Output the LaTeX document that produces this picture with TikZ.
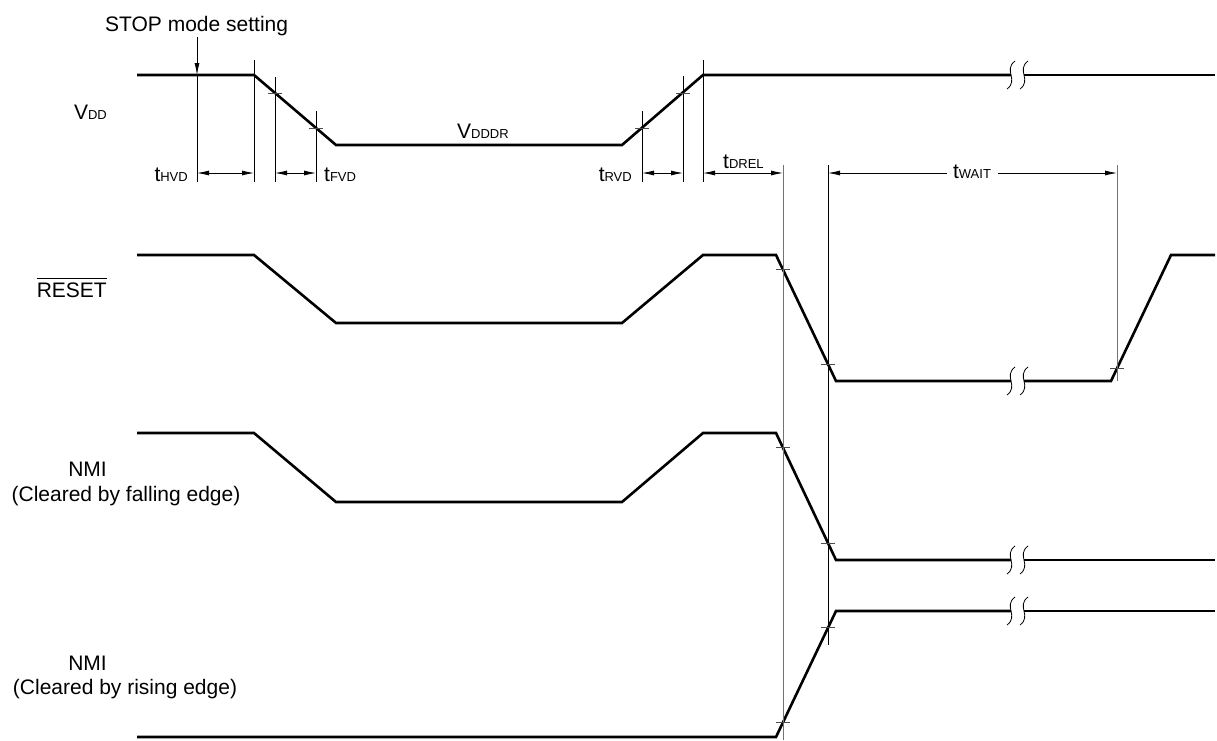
\documentclass[tikz,border=0pt]{standalone}
\usepackage{fontspec}
\setmainfont{Liberation Sans}
\usetikzlibrary{arrows.meta}
\newcommand{\sbs}[1]{{\fontsize{13}{13}\selectfont #1}}
\begin{document}
\begin{tikzpicture}[x=1pt,y=-1pt,
  sig/.style={line width=2.6pt, line join=miter},
  guide/.style={line width=0.8pt, draw=black},
  gguide/.style={line width=0.9pt, draw=black!55},
  dimarr/.style={line width=0.8pt, {Latex[length=12pt,width=5pt]}-{Latex[length=12pt,width=5pt]}},
  larr/.style={line width=0.8pt, {Latex[length=12pt,width=5pt]}-},
  rarr/.style={line width=0.8pt, -{Latex[length=12pt,width=5pt]}},
  lbl/.style={inner sep=0pt, font=\fontsize{21}{25}\selectfont},
  tickm/.style={line width=0.8pt, draw=black!70},
  brk/.pic={\draw[line width=0.8pt] (4,-14) .. controls (-8,-5) and (8,5) .. (-4,14);}
]
\useasboundingbox (0,0) rectangle (1217,740);

% ---------- labels ----------
\node[lbl,anchor=base west] (stop) at (105,31) {STOP mode setting};
\node[lbl,anchor=base east] (vdd) at (107,119) {V\sbs{DD}};
\node[lbl,anchor=base east] (reset) at (107,297) {RESET};
\draw[line width=0.9pt] ([yshift=4pt]reset.north west) -- ([yshift=4pt]reset.north east);
\node[lbl,anchor=base east] (nmia) at (107,476) {NMI};
\node[lbl,anchor=base] (nmiat) at (126,501) {(Cleared by falling edge)};
\node[lbl,anchor=base east] (nmib) at (107,670) {NMI};
\node[lbl,anchor=base] (nmibt) at (125,694) {(Cleared by rising edge)};
\node[lbl,anchor=base west] (vddr) at (457,138) {V\sbs{DDDR}};
\node[lbl,anchor=base east] (thvd) at (188,181) {t\sbs{HVD}};
\node[lbl,anchor=base west] (tfvd) at (324,181) {t\sbs{FVD}};
\node[lbl,anchor=base east] (trvd) at (632,181) {t\sbs{RVD}};
\node[lbl,anchor=base west] (tdrel) at (723,168) {t\sbs{DREL}};
\node[lbl,anchor=base] (twait) at (972,178) {t\sbs{WAIT}};

% ---------- signals ----------
% VDD
\draw[sig] (137,75) -- (254,75) -- (336,145) -- (622,145) -- (703,75) -- (1011,75);
\draw[sig] (1024,75) -- (1215,75);
% RESET
\draw[sig] (137,255) -- (254,255) -- (336,323) -- (622,323) -- (703,255) -- (776,255) -- (836,381) -- (1011,381);
\draw[sig] (1024,381) -- (1111,381) -- (1171,255) -- (1215,255);
% NMI (falling)
\draw[sig] (137,433) -- (254,433) -- (336,502) -- (622,502) -- (703,433) -- (776,433) -- (836,560) -- (1011,560);
\draw[sig] (1024,560) -- (1215,560);
% NMI (rising)
\draw[sig] (137,737) -- (776,737) -- (836,611) -- (1011,611);
\draw[sig] (1024,611) -- (1215,611);

% break marks
\foreach \yy in {75,381,560,611}{
  \pic at (1011,\yy) {brk};
  \pic at (1024,\yy) {brk};
}

% ---------- guide lines ----------
\draw[rarr] (197,37) -- (197,75);
\draw[guide] (197,75) -- (197,182);
\draw[guide] (254,60) -- (254,182);
\draw[guide] (275,77) -- (275,182);
\draw[guide] (316,111) -- (316,182);
\draw[guide] (642,111) -- (642,182);
\draw[guide] (683,76) -- (683,182);
\draw[guide] (703,60) -- (703,182);
\draw[gguide] (783,165) -- (783,740);
\draw[guide] (828,165) -- (828,645);
\draw[gguide] (1117,165) -- (1117,381);

% ---------- dimension arrows ----------
\draw[dimarr] (197,173) -- (254,173);
\draw[dimarr] (275,173) -- (316,173);
\draw[dimarr] (642,173) -- (683,173);
\draw[dimarr] (703,173) -- (783,173);
\draw[larr] (828,173) -- (947,173);
\draw[rarr] (998,173) -- (1117,173);

% ---------- tick marks ----------
\foreach \xx/\yy in {275/93.7,316/128.2,642/128,683/93,
                     783/269.8,828/364,1117/368,
                     783/447.8,828/543,
                     783/722.3,828/627.8}{
  \draw[tickm] (\xx-7,\yy) -- (\xx+7,\yy);
}
\end{tikzpicture}
\end{document}
